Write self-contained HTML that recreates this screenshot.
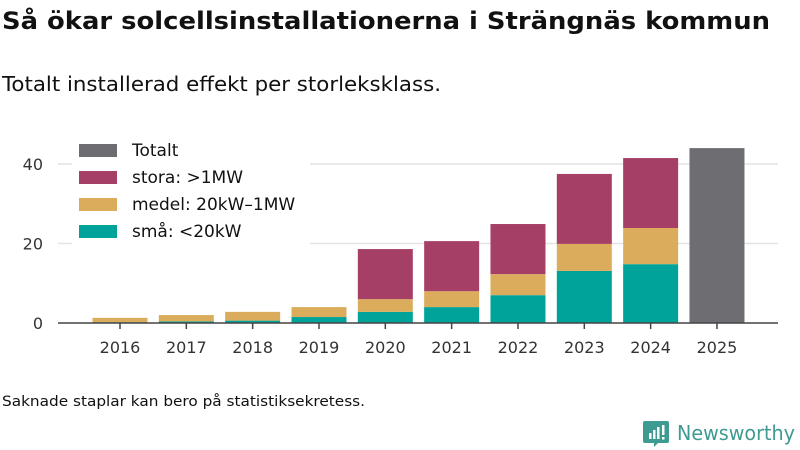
<!DOCTYPE html>
<html><head><meta charset="utf-8"><style>
body{margin:0;background:#fff}
svg{display:block;font-family:"DejaVu Sans","Liberation Sans",sans-serif}
</style></head><body>
<svg id="c" width="800" height="450" viewBox="0 0 800 450">
<text x="2" y="29" font-size="24" font-weight="bold" fill="#111" textLength="768" lengthAdjust="spacingAndGlyphs">Så ökar solcellsinstallationerna i Strängnäs kommun</text>
<text x="2" y="91" font-size="20" fill="#111" textLength="439" lengthAdjust="spacingAndGlyphs">Totalt installerad effekt per storleksklass.</text>
<g id="grid"></g>
<g id="bars"></g>
<g id="axis"></g>
<g id="legend"></g>
<text x="2" y="406" font-size="14" fill="#111" textLength="363" lengthAdjust="spacingAndGlyphs">Saknade staplar kan bero på statistiksekretess.</text>
<g>
<path d="M645 421h22a2 2 0 0 1 2 2v18a2 2 0 0 1-2 2h-9l-4 4v-4h-9a2 2 0 0 1-2-2v-18a2 2 0 0 1 2-2z" fill="#3d9b92"/>
<rect x="649" y="433" width="2.5" height="6" fill="#fff"/><rect x="653" y="430" width="2.5" height="9" fill="#fff"/><rect x="657" y="427" width="2.5" height="12" fill="#fff"/><rect x="662" y="425" width="2.5" height="10" fill="#fff"/><rect x="662" y="437" width="2.5" height="2.5" fill="#fff"/>
<text x="677" y="440" font-size="20" fill="#3d9b92" textLength="118" lengthAdjust="spacingAndGlyphs">Newsworthy</text>
</g>
</svg>
<script>
const years=["2016","2017","2018","2019","2020","2021","2022","2023","2024","2025"];
const small=[0.2,0.4,0.6,1.5,2.8,4.0,7.0,13.1,14.8,null];
const medium=[1.1,1.6,2.2,2.5,3.2,4.0,5.3,6.8,9.1,null];
const large=[0,0,0,0,12.6,12.6,12.6,17.6,17.6,null];
const total=[null,null,null,null,null,null,null,null,null,44.0];
const yTicks=[0,20,40];
const NS="http://www.w3.org/2000/svg";
const x0=120,step=66.33,bw=55,yBase=323,yScale=3.975;
const X=i=>x0+i*step, Y=v=>yBase-v*yScale;
function mk(t,a,p){const e=document.createElementNS(NS,t);for(const k in a)e.setAttribute(k,a[k]);p.appendChild(e);return e;}
const grid=document.getElementById('grid'),bars=document.getElementById('bars'),axis=document.getElementById('axis'),leg=document.getElementById('legend');
yTicks.forEach(t=>{
 if(t>0){const g=mk('line',{x1:58,x2:778,y1:Y(t),y2:Y(t),stroke:'#e3e3e3','stroke-width':1.5},grid);
 
 }
 const l=mk('text',{x:43,y:Y(t)+6,'font-size':16,fill:'#333','text-anchor':'end'},axis);l.textContent=t;
 
 
});
const C={s:'#00a39a',m:'#dbac5c',l:'#a63f66',t:'#6e6d72'};
years.forEach((y,i)=>{
 let acc=0;
 [[small[i],C.s,'small'],[medium[i],C.m,'medium'],[large[i],C.l,'large'],[total[i],C.t,'total']].forEach(([v,c,n])=>{
  if(v==null||v<=0)return;
  const r=mk('rect',{x:X(i)-bw/2,y:Y(acc+v),width:bw,height:v*yScale,fill:c},bars);
  
  
  acc+=v;
 });
 mk('line',{x1:X(i),x2:X(i),y1:yBase,y2:yBase+6,stroke:'#444','stroke-width':1.5},axis);
 const t=mk('text',{x:X(i),y:353,'font-size':16,fill:'#333','text-anchor':'middle'},axis);t.textContent=y;
 
 
});
const al=mk('line',{x1:58,x2:778,y1:yBase,y2:yBase,stroke:'#444','stroke-width':1.5},axis);


mk('rect',{x:72,y:138,width:238,height:108,fill:'#fff'},leg);
[['Totalt',C.t],['stora: >1MW',C.l],['medel: 20kW–1MW',C.m],['små: <20kW',C.s]].forEach(([lab,c],k)=>{
 const yy=150+k*27;
 const sw=mk('rect',{x:79,y:yy-6,width:38,height:13,fill:c},leg);
 
 
 const t=mk('text',{x:132,y:yy+6,'font-size':17,fill:'#111'},leg);t.textContent=lab;
 
 
});
</script>
</body></html>
